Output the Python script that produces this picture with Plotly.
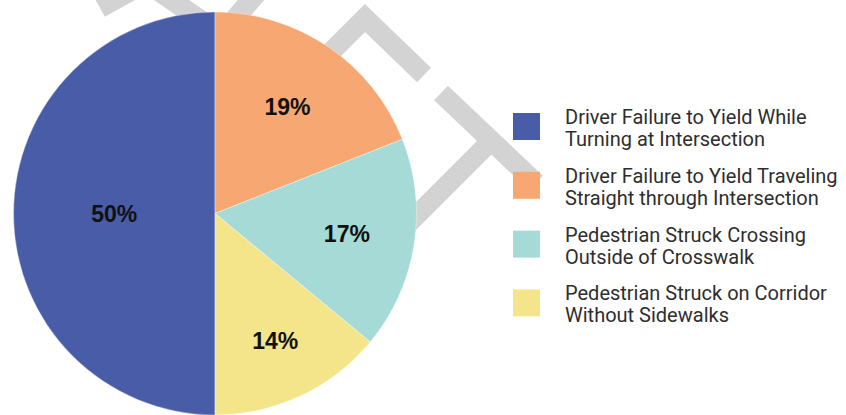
import plotly.graph_objects as go

# ---- data ----
categories = [
    "Driver Failure to Yield While<br>Turning at Intersection",
    "Driver Failure to Yield Traveling<br>Straight through Intersection",
    "Pedestrian Struck Crossing<br>Outside of Crosswalk",
    "Pedestrian Struck on Corridor<br>Without Sidewalks",
]
shares = [50, 19, 17, 14]
colors = ["#485CA8", "#F7A872", "#A5DAD6", "#F4E58B"]

W, H = 846, 415


def px(x, y):
    return x / W, 1 - y / H


fig = go.Figure()
fig.add_trace(go.Pie(
    labels=categories,
    values=shares,
    sort=False,
    direction="clockwise",
    rotation=180,
    marker=dict(colors=colors, line=dict(color="rgba(255,255,255,0.35)", width=1)),
    texttemplate="%{value}%",
    textposition="inside",
    insidetextorientation="horizontal",
    textfont=dict(family="Liberation Sans, Arial, sans-serif", size=23,
                  color="#111111", weight="bold"),
    domain=dict(x=[13.5 / W, 416.5 / W], y=[0, 403 / H]),
    showlegend=False,
    hoverinfo="label+percent",
))

# ---- decorative watermark strokes (background) ----
strokes = [
    [(100, 8), (165, -28)],
    [(160, -8), (215, 30)],
    [(258, -8), (225, 30)],
    [(300, 83), (365, 18), (424, 75)],
    [(441, 93), (536, 183)],
    [(490, 142), (400, 232)],
]
shapes = []
for pts in strokes:
    d = ""
    for i, (x, y) in enumerate(pts):
        X, Y = px(x, y)
        d += ("M" if i == 0 else "L") + f"{X},{Y} "
    shapes.append(dict(type="path", path=d.strip(), xref="paper", yref="paper",
                       line=dict(color="#D3D3D3", width=20), layer="below"))

# ---- custom legend ----
annotations = []
box = 27
x0 = 513
y_first = 126.5
pitch = 58.8
line_offsets = [-9.5, 12.5]
for i, (lab, col) in enumerate(zip(categories, colors)):
    yc = y_first + i * pitch
    bx0, by0 = px(x0, yc - box / 2)
    bx1, by1 = px(x0 + box, yc + box / 2)
    shapes.append(dict(type="rect", xref="paper", yref="paper",
                       x0=bx0, x1=bx1, y0=by1, y1=by0,
                       fillcolor=col, line=dict(width=0), layer="above"))
    for line_txt, off in zip(lab.split("<br>"), line_offsets):
        tx, ty = px(563, yc + off)
        annotations.append(dict(text=line_txt, x=tx, y=ty, xref="paper", yref="paper",
                                xanchor="left", yanchor="middle", align="left",
                                showarrow=False,
                                font=dict(family="Roboto, Arial, sans-serif", size=20,
                                          color="#2E2E2E")))

fig.update_layout(
    width=W, height=H,
    margin=dict(l=0, r=0, t=0, b=0),
    paper_bgcolor="white",
    plot_bgcolor="white",
    shapes=shapes,
    annotations=annotations,
    showlegend=False,
)

fig.write_html("out.html", config={"displayModeBar": False},
               post_script="document.body.style.margin='0px';")
